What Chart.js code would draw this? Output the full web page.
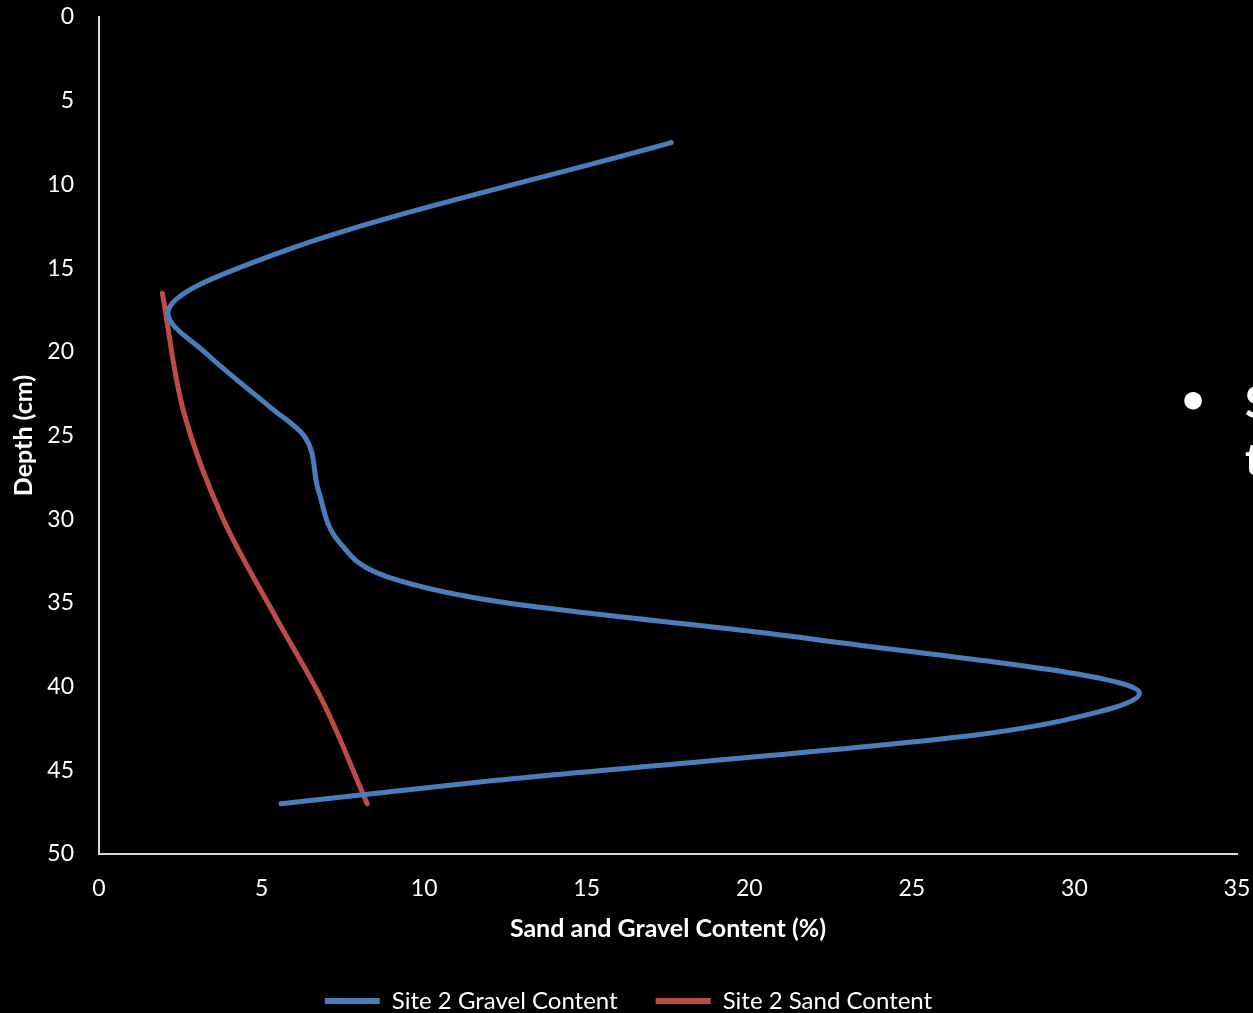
<!DOCTYPE html>
<html>
<head>
<meta charset="utf-8">
<script src="https://cdn.jsdelivr.net/npm/chart.js@4.4.1/dist/chart.umd.min.js"></script>
<style>
  html, body { margin: 0; padding: 0; background: #000; overflow: hidden; }
  #wrap { width: 1253px; height: 1013px; position: relative; }
</style>
</head>
<body>
<div id="wrap"><canvas id="c" width="1253" height="1013"></canvas></div>
<script>
// ---- data ----
const gravelContent = [17.6, 5.66, 2.12, 3.3, 5.26, 6.3, 6.75, 7.42, 8.85, 12.2, 21.7, 32.0, 29.7, 26.5, 12.2, 5.6];
const gravelDepth   = [7.5, 14.0, 17.7, 20.1, 23.3, 25.0, 28.3, 31.44, 33.43, 34.9, 37.1, 40.4, 42.0, 43.0, 45.6, 47.0];
const sandContent   = [1.95, 2.62, 3.82, 5.48, 6.86, 8.25];
const sandDepth     = [16.5, 23.7, 30.0, 36.0, 40.8, 47.0];
const seriesNames   = ['Site 2 Gravel Content', 'Site 2 Sand Content'];
const xTicks = [0, 5, 10, 15, 20, 25, 30, 35];
const yTicks = [0, 5, 10, 15, 20, 25, 30, 35, 40, 45, 50];
const xTitle = 'Sand and Gravel Content (%)';
const yTitle = 'Depth (cm)';
const sideBullet = '•';
const sideLines = ['S', 't'];

const FONT = 'Lato, "Open Sans", sans-serif';
const BLUE = '#4A7EBB';
const RED = '#BE4B48';

const toPts = (xs, ys) => xs.map((x, i) => ({ x: x, y: ys[i] }));

const sidePlugin = {
  id: 'sideText',
  afterUpdate(chart) {
    // nudge the legend block to sit where the reference has it
    if (chart.legend) { chart.legend.left += 10; chart.legend.right += 10; }
  },
  afterDraw(chart) {
    const ctx = chart.ctx;
    ctx.save();
    ctx.fillStyle = '#ffffff';
    ctx.font = 'bold 40px ' + FONT;
    ctx.textAlign = 'center';
    ctx.textBaseline = 'middle';
    ctx.fillText(sideBullet, 1193, 400);
    ctx.font = 'bold 43px ' + FONT;
    ctx.textAlign = 'left';
    ctx.textBaseline = 'alphabetic';
    ctx.fillText(sideLines[0], 1245, 418);
    ctx.fillText(sideLines[1], 1245, 475);
    ctx.restore();
  }
};

new Chart(document.getElementById('c'), {
  type: 'line',
  data: {
    datasets: [
      { label: seriesNames[0], data: toPts(gravelContent, gravelDepth),
        borderColor: BLUE, backgroundColor: BLUE, borderWidth: 5, pointRadius: 0,
        cubicInterpolationMode: 'monotone', borderCapStyle: 'round', borderJoinStyle: 'round', fill: false },
      { label: seriesNames[1], data: toPts(sandContent, sandDepth),
        borderColor: RED, backgroundColor: RED, borderWidth: 5, pointRadius: 0,
        cubicInterpolationMode: 'monotone', borderCapStyle: 'round', borderJoinStyle: 'round', fill: false }
    ]
  },
  options: {
    indexAxis: 'y',
    responsive: false,
    animation: false,
    layout: { padding: { top: 17, left: 0, right: 16, bottom: 0 } },
    plugins: {
      tooltip: { enabled: false },
      legend: {
        position: 'bottom',
        maxHeight: 62,
        labels: {
          color: '#ffffff',
          font: { family: FONT, size: 24 },
          boxWidth: 55,
          boxHeight: 6,
          padding: 38,
          generateLabels(chart) {
            return Chart.defaults.plugins.legend.labels.generateLabels(chart)
              .map(l => Object.assign(l, { lineWidth: 0 }));
          }
        }
      }
    },
    scales: {
      x: {
        type: 'linear', position: 'bottom', min: 0, max: 35,
        afterBuildTicks(scale) { scale.ticks = xTicks.map(v => ({ value: v })); },
        afterFit(scale) { scale.height = 97; scale.paddingLeft = 0; scale.paddingRight = 0; },
        grid: { display: false, drawTicks: false },
        border: { display: true, color: '#d9d9d9', width: 2 },
        ticks: { color: '#ffffff', font: { family: FONT, size: 23 }, padding: 21, maxRotation: 0 },
        title: { display: true, text: xTitle, color: '#ffffff',
                 font: { family: FONT, size: 25, weight: 'bold' }, padding: { top: 4, bottom: 7 } }
      },
      y: {
        type: 'linear', position: 'left', min: 0, max: 50, reverse: true,
        afterBuildTicks(scale) { scale.ticks = yTicks.map(v => ({ value: v })); },
        afterFit(scale) { scale.width = 99; scale.paddingTop = 0; scale.paddingBottom = 0; },
        grid: { display: false, drawTicks: false },
        border: { display: true, color: '#d9d9d9', width: 2 },
        ticks: { color: '#ffffff', font: { family: FONT, size: 23 }, padding: 25 },
        title: { display: true, text: yTitle, color: '#ffffff',
                 font: { family: FONT, size: 25, weight: 'bold' }, padding: { top: 9, bottom: 0 } }
      }
    }
  },
  plugins: [sidePlugin]
});
</script>
</body>
</html>
